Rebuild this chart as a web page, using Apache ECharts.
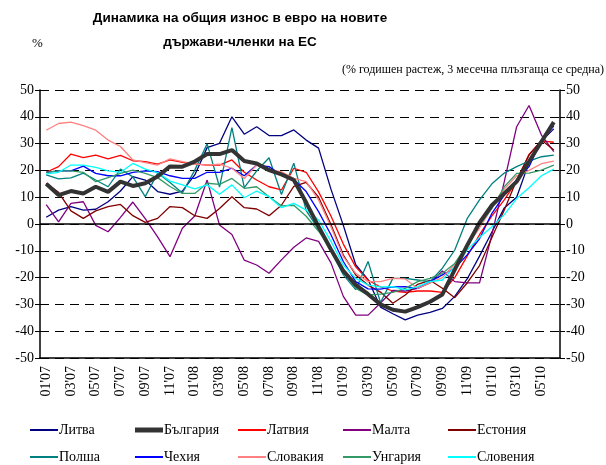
<!DOCTYPE html>
<html><head><meta charset="utf-8">
<script src="https://cdn.jsdelivr.net/npm/echarts@6/dist/echarts.min.js"></script>
<style>html,body{margin:0;padding:0;background:#fff}#c{width:606px;height:465px}</style>
</head><body><div id="c"></div>
<script>
const months = ["01'07","02'07","03'07","04'07","05'07","06'07","07'07","08'07","09'07","10'07","11'07","12'07",
"01'08","02'08","03'08","04'08","05'08","06'08","07'08","08'08","09'08","10'08","11'08","12'08",
"01'09","02'09","03'09","04'09","05'09","06'09","07'09","08'09","09'09","10'09","11'09","12'09",
"01'10","02'10","03'10","04'10","05'10","06'10"];
const yTicks = [-50,-40,-30,-20,-10,0,10,20,30,40,50];

const lithuania = [2.5,5.2,6.5,5.2,5.5,8.3,12.3,17.7,16.4,12.1,11.1,12.3,18.3,28.5,30.1,40.0,33.5,36.3,33.0,33.0,35.1,31.3,28.3,13.0,-0.5,-15.2,-20.8,-31.0,-33.5,-35.8,-34.0,-33.0,-31.5,-27.0,-20.5,-12.0,-3.0,6.0,10.0,23.0,31.0,35.5];
const bulgaria = [15.0,10.8,12.3,11.4,13.9,12.0,15.8,14.2,15.2,17.7,21.5,21.4,23.3,26.1,26.1,27.6,23.5,22.6,20.1,18.5,16.4,8.0,-1.0,-9.5,-17.5,-22.7,-26.2,-30.0,-32.0,-32.7,-31.0,-29.0,-26.3,-17.0,-8.0,0.5,7.0,11.4,15.8,23.3,30.7,38.0];
const latvia = [19.3,21.4,26.1,24.8,25.7,24.3,25.6,23.6,23.3,22.3,23.9,23.0,22.4,22.0,22.0,23.9,19.3,16.4,13.9,12.7,20.8,19.3,12.0,3.0,-7.5,-16.0,-21.0,-23.5,-25.0,-25.5,-25.0,-25.0,-25.5,-20.0,-12.0,-4.0,3.0,9.0,16.0,26.0,31.0,30.5];
const malta = [7.2,0.8,7.7,8.3,-0.5,-2.9,2.5,8.2,2.0,-4.8,-12.2,-1.6,3.0,16.4,-0.4,-3.9,-13.5,-15.3,-18.4,-13.4,-8.7,-5.2,-6.5,-14.5,-27.0,-34.0,-34.0,-29.5,-24.8,-25.0,-24.0,-22.0,-17.5,-21.5,-22.0,-22.0,-4.0,15.8,36.3,44.2,33.2,27.0];
const estonia = [15.2,11.8,4.9,2.1,4.9,6.5,7.3,3.1,0.6,2.1,6.5,6.1,3.1,2.1,5.8,10.2,6.1,5.6,3.1,7.0,14.0,15.5,10.0,-0.2,-11.6,-19.0,-22.8,-25.4,-29.6,-26.5,-22.5,-21.0,-24.0,-27.5,-22.0,-15.5,-5.0,5.2,16.4,25.7,31.3,27.6];
const poland = [18.3,16.8,17.2,19.0,16.4,13.9,20.5,17.6,10.2,19.0,15.5,11.6,20.1,29.9,13.8,36.0,13.6,19.8,24.7,11.0,22.7,5.0,-2.0,-10.0,-19.0,-24.5,-14.0,-29.3,-20.3,-20.3,-20.9,-21.5,-16.5,-9.7,2.0,9.0,15.0,19.0,21.4,23.5,25.1,25.7];
const czech = [19.3,19.8,19.8,21.6,18.9,18.0,18.0,19.3,19.8,19.5,18.0,17.0,17.0,19.3,19.3,20.8,18.0,22.0,21.4,18.3,16.6,12.1,4.6,-4.0,-14.0,-21.5,-24.2,-24.3,-23.5,-23.4,-24.0,-21.5,-19.0,-16.5,-11.5,-5.5,4.0,10.8,16.4,21.4,31.3,36.5];
const slovakia = [35.0,37.5,38.0,36.7,35.0,31.3,28.9,23.9,22.9,22.0,24.3,23.3,22.4,22.0,22.3,20.8,17.0,22.0,20.1,19.5,17.0,15.8,9.0,-1.0,-12.2,-18.4,-21.5,-21.5,-20.3,-20.5,-24.0,-22.0,-20.0,-15.0,-8.0,-1.5,6.0,13.0,18.0,20.0,22.5,23.5];
const hungary = [19.3,19.8,19.8,19.3,15.8,17.3,18.9,20.1,18.9,17.3,14.0,11.4,11.4,15.2,14.8,17.0,13.3,13.9,10.2,6.8,7.0,2.9,-2.7,-9.1,-17.8,-24.0,-26.5,-26.2,-25.5,-24.0,-21.5,-20.3,-18.4,-14.7,-7.8,-0.4,5.8,13.9,18.9,19.0,20.1,22.0];
const slovenia = [18.7,19.3,22.0,22.0,21.1,19.8,19.3,22.6,20.5,19.2,16.0,14.6,13.1,14.6,11.1,14.6,9.8,12.3,10.2,6.1,7.7,5.2,1.5,-6.5,-15.3,-20.3,-22.8,-23.5,-23.4,-24.6,-23.4,-21.5,-20.9,-15.9,-9.7,-5.0,-1.0,3.5,9.5,13.5,18.0,20.5];

const names = ["Литва","България","Латвия","Малта","Естония","Полша","Чехия","Словакия","Унгария","Словения"];
const values = [lithuania,bulgaria,latvia,malta,estonia,poland,czech,slovakia,hungary,slovenia];
const colors = ["#000080","#333333","#FF0000","#800080","#800000","#008080","#0000FF","#FF8080","#339966","#00FFFF"];

const serif = "'Liberation Serif','Times New Roman',serif";
const sans = "'Liberation Sans',Arial,sans-serif";

const legendX = [25,130,233,338,443];
const legendY = [418,445];
const legends = names.map((n,i)=>({
  data:[n], left: legendX[i%5], top: legendY[Math.floor(i/5)],
  icon:'rect', itemWidth:28, itemHeight: n==="България"?5:2, itemGap:0,
  textStyle:{fontFamily:serif,fontSize:14,color:'#000',padding:[0,0,0,-4]},
  selectedMode:false
}));

const series = names.map((n,i)=>{
  const s = {name:n,type:'line',data:values[i],symbol:'none',
    lineStyle:{color:colors[i],width:n==="България"?4:1.3},itemStyle:{color:colors[i]},
    z: n==="България"?3:2, animation:false};
  if(i===0){
    s.markLine={silent:true,symbol:['none','none'],label:{show:false},
      lineStyle:{color:'#000',type:'solid',width:1.5},data:[{yAxis:0}]};
  }
  return s;
});

const yAxisBase = {type:'value',min:-50,max:50,interval:10,
  axisLine:{show:true,lineStyle:{color:'#000',width:1.5}},
  axisTick:{show:true,length:5,lineStyle:{color:'#000'}},
  axisLabel:{color:'#000',fontFamily:serif,fontSize:14,margin:6,
    formatter:v=>yTicks.includes(v)?String(v):''}};

const chart = echarts.init(document.getElementById('c'),null,{renderer:'canvas'});
chart.setOption({
  animation:false,
  backgroundColor:'#fff',
  grid:{left:40,right:46,top:90,bottom:107},
  legend:legends,
  xAxis:{type:'category',data:months,boundaryGap:true,
    axisLine:{onZero:false,lineStyle:{color:'#000',width:1.5}},
    axisTick:{interval:0,length:5,lineStyle:{color:'#000'}},
    axisLabel:{interval:1,rotate:90,color:'#000',fontFamily:serif,fontSize:14,margin:8},
    splitLine:{show:false}},
  yAxis:[
    Object.assign({},yAxisBase,{position:'left',
      splitLine:{show:true,lineStyle:{color:'#000',type:[9,6],width:1}}}),
    Object.assign({},yAxisBase,{position:'right',splitLine:{show:false}})
  ],
  series:series,
  graphic:[
    {type:'text',style:{x:240,y:11,text:'Динамика на общия износ в евро на новите',
      font:"bold 13.5px "+sans,fill:'#000',textAlign:'center'}},
    {type:'text',style:{x:240,y:35,text:'държави-членки на ЕС',
      font:"bold 13.5px "+sans,fill:'#000',textAlign:'center'}},
    {type:'text',style:{x:32,y:37,text:'%',font:"13px "+serif,fill:'#000'}},
    {type:'text',style:{x:604,y:64,text:'(% годишен растеж, 3 месечна плъзгаща се средна)',
      font:"12px "+serif,fill:'#000',textAlign:'right'}}
  ]
});
</script></body></html>
